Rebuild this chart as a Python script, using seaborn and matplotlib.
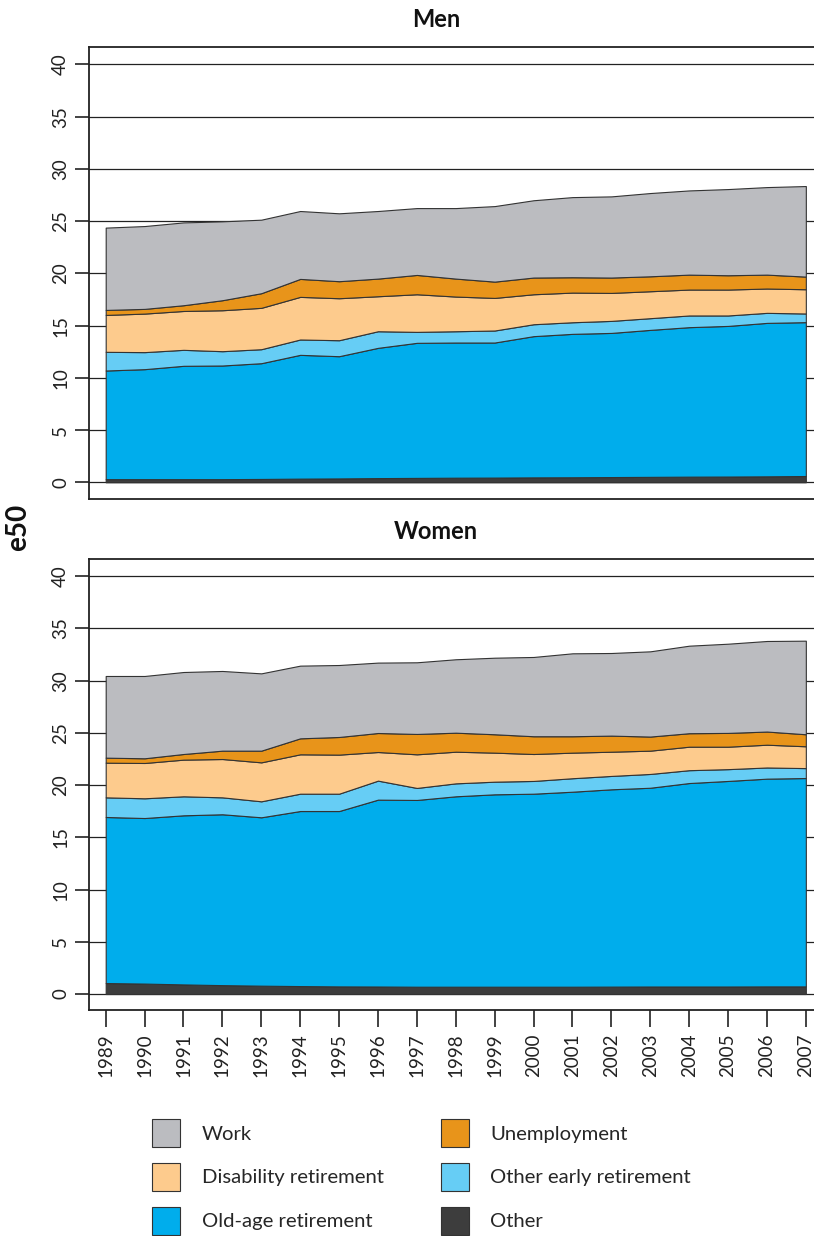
import numpy as np
import matplotlib
matplotlib.use("Agg")
import matplotlib.pyplot as plt
import seaborn as sns

# Expected remaining lifetime at age 50 (e50), decomposed by labour-market state
years = list(range(1989, 2008))
categories = ["Other", "Old-age retirement", "Other early retirement",
              "Disability retirement", "Unemployment", "Work"]
colors = {
    "Work": "#BBBCC0",
    "Unemployment": "#E8941A",
    "Disability retirement": "#FDCB8D",
    "Other early retirement": "#66CDF5",
    "Old-age retirement": "#00ADEC",
    "Other": "#3D3D3D",
}

men_other = [0.30, 0.30, 0.30, 0.30, 0.32, 0.35, 0.37, 0.40, 0.42, 0.44,
             0.45, 0.47, 0.48, 0.50, 0.52, 0.54, 0.55, 0.57, 0.60]
men_oldage = [10.40, 10.53, 10.85, 10.88, 11.08, 11.85, 11.70, 12.47, 12.93, 12.94,
              12.93, 13.52, 13.73, 13.80, 14.07, 14.31, 14.42, 14.69, 14.73]
men_early = [1.79, 1.63, 1.53, 1.37, 1.34, 1.47, 1.53, 1.59, 1.05, 1.08,
             1.15, 1.14, 1.11, 1.15, 1.12, 1.12, 1.00, 0.96, 0.83]
men_disab = [3.53, 3.69, 3.72, 3.92, 3.96, 4.08, 4.02, 3.35, 3.60, 3.32,
             3.12, 2.87, 2.84, 2.68, 2.58, 2.48, 2.48, 2.33, 2.32]
men_unemp = [0.48, 0.45, 0.55, 0.96, 1.40, 1.72, 1.63, 1.69, 1.85, 1.72,
             1.56, 1.60, 1.47, 1.47, 1.43, 1.43, 1.37, 1.33, 1.21]
men_work = [7.88, 7.93, 7.93, 7.55, 7.04, 6.50, 6.50, 6.47, 6.40, 6.75,
            7.23, 7.40, 7.67, 7.77, 7.97, 8.06, 8.25, 8.38, 8.67]

women_other = [1.05, 1.00, 0.92, 0.85, 0.80, 0.76, 0.73, 0.72, 0.70, 0.70,
               0.70, 0.70, 0.70, 0.71, 0.72, 0.72, 0.72, 0.73, 0.73]
women_oldage = [15.90, 15.85, 16.19, 16.36, 16.12, 16.76, 16.79, 17.89, 17.88, 18.23,
                18.42, 18.48, 18.67, 18.89, 19.03, 19.48, 19.68, 19.89, 19.95]
women_early = [1.88, 1.89, 1.82, 1.62, 1.53, 1.66, 1.66, 1.82, 1.15, 1.24,
               1.21, 1.22, 1.29, 1.28, 1.32, 1.23, 1.13, 1.07, 0.95]
women_disab = [3.32, 3.38, 3.51, 3.67, 3.73, 3.77, 3.74, 2.74, 3.22, 3.03,
               2.78, 2.58, 2.45, 2.32, 2.23, 2.25, 2.15, 2.18, 2.09]
women_unemp = [0.48, 0.45, 0.54, 0.80, 1.12, 1.53, 1.69, 1.82, 1.95, 1.82,
               1.76, 1.70, 1.57, 1.54, 1.35, 1.29, 1.32, 1.26, 1.15]
women_work = [7.82, 7.88, 7.85, 7.63, 7.40, 6.96, 6.89, 6.74, 6.86, 7.03,
              7.33, 7.59, 7.94, 7.91, 8.16, 8.38, 8.54, 8.67, 8.96]

yticks = [0, 5, 10, 15, 20, 25, 30, 35, 40]

panels = [
    ("Men", [men_other, men_oldage, men_early, men_disab, men_unemp, men_work]),
    ("Women", [women_other, women_oldage, women_early, women_disab, women_unemp, women_work]),
]

sns.set_theme(style="ticks")
plt.rcParams["font.family"] = ["Lato", "DejaVu Sans"]

W, H = 814, 1236
fig = plt.figure(figsize=(W / 100, H / 100), dpi=100)

def frac_rect(x0, y_top, x1, y_bot):
    return [x0 / W, 1 - y_bot / H, (x1 - x0) / W, (y_bot - y_top) / H]

rects = [frac_rect(88.7, 46.7, 814, 499), frac_rect(88.7, 559, 814, 1010)]
ylims = [(-1.6, 41.7), (-1.53, 41.65)]

for i, ((title, series), rect, ylim) in enumerate(zip(panels, rects, ylims)):
    ax = fig.add_axes(rect)
    for t in yticks:
        ax.axhline(t, color="#222222", lw=0.9, zorder=0)
    polys = ax.stackplot(years, *series, labels=categories,
                         colors=[colors[c] for c in categories],
                         edgecolor="#333333", linewidth=0.8, zorder=2)
    ax.set_xlim(1988.563, 2007.21)
    ax.set_ylim(*ylim)
    ax.set_yticks(yticks)
    ax.set_yticklabels([str(t) for t in yticks], rotation=90, va="center",
                       fontsize=13.5, color="#222222")
    ax.tick_params(axis="y", direction="out", length=10, width=1.2,
                   color="#222222", pad=4)
    ax.set_title(title, fontsize=17, fontweight="bold", pad=14.5, color="#111111",
                 x=(436 - 88.7) / (814 - 88.7))
    ax.set_xticks(years)
    if i == 0:
        ax.tick_params(axis="x", length=0, labelbottom=False)
    else:
        ax.set_xticklabels([str(y) for y in years], rotation=90, fontsize=13.5,
                           color="#222222")
        ax.tick_params(axis="x", direction="out", length=12, width=1.2,
                       color="#222222", pad=5)
    for side in ["left", "bottom", "top"]:
        ax.spines[side].set_color("#222222")
        ax.spines[side].set_linewidth(1.3)
    ax.spines["right"].set_visible(False)
    ax.set_facecolor("white")
    if i == 0:
        handles = {c: p for c, p in zip(categories, polys)}

fig.text(18 / W, 1 - 527 / H, "e50", rotation=90, va="center", ha="center",
         fontsize=20, fontweight="bold", color="#111111")

order = ["Work", "Disability retirement", "Old-age retirement",
         "Unemployment", "Other early retirement", "Other"]
fig.legend([handles[c] for c in order], order, ncol=2, frameon=False,
           loc="upper left", bbox_to_anchor=(152 / W, 1 - 1119 / H),
           borderpad=0, borderaxespad=0, fontsize=14.6,
           handlelength=1.38, handleheight=1.75, handletextpad=1.08,
           labelspacing=0.78, columnspacing=2.8)

fig.savefig("out.png", dpi=100, facecolor="white")
